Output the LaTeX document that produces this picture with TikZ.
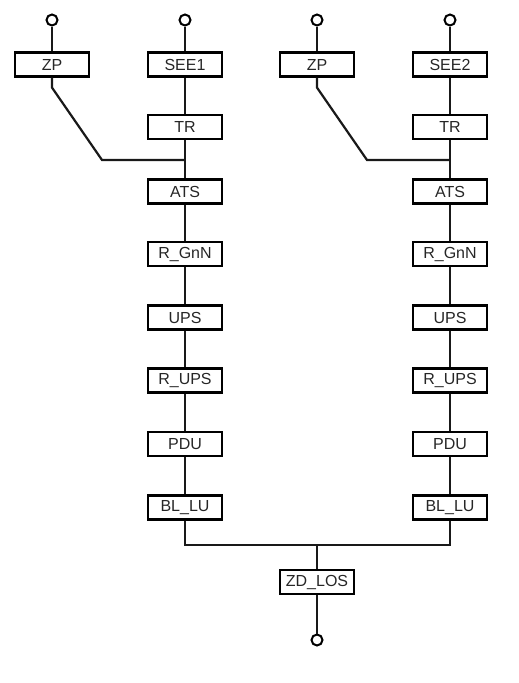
\documentclass[tikz,border=0pt]{standalone}
\usepackage{fontspec}
\setmainfont{Liberation Sans}
\begin{document}
\begin{tikzpicture}
            [x=1pt, y=-1pt,
            block/.style={draw, line width=2.2pt, minimum width=74pt, minimum height=24pt, inner sep=0pt, font=\fontsize{16}{18}\selectfont, text=black!85},
            term/.style={circle, draw, line width=2pt, minimum size=11pt, inner sep=0pt},
            wire/.style={line width=2.2pt, black!90}]

            \useasboundingbox (0,0) rectangle (519,683);

            % left chain
            \node[term] (t1) at (52,20) {};
            \node[term] (t2) at (185,20) {};
            \node[block] (zp1) at (52,64.5) {ZP};
            \node[block] (see1) at (185,64.5) {SEE1};
            \node[block] (tr1) at (185,127) {TR};
            \node[block] (ats1) at (185,191.5) {ATS};
            \node[block] (rg1) at (185,254) {R\_GnN};
            \node[block] (ups1) at (185,317.5) {UPS};
            \node[block] (ru1) at (185,380.5) {R\_UPS};
            \node[block] (pdu1) at (185,444) {PDU};
            \node[block] (bl1) at (185,507.5) {BL\_LU};
            \coordinate (b1) at (102,160);
            \coordinate (j1) at (185,160);

            % right chain
            \node[term] (t3) at (317,20) {};
            \node[term] (t4) at (450,20) {};
            \node[block] (zp2) at (317,64.5) {ZP};
            \node[block] (see2) at (450,64.5) {SEE2};
            \node[block] (tr2) at (450,127) {TR};
            \node[block] (ats2) at (450,191.5) {ATS};
            \node[block] (rg2) at (450,254) {R\_GnN};
            \node[block] (ups2) at (450,317.5) {UPS};
            \node[block] (ru2) at (450,380.5) {R\_UPS};
            \node[block] (pdu2) at (450,444) {PDU};
            \node[block] (bl2) at (450,507.5) {BL\_LU};
            \coordinate (b2) at (367,160);
            \coordinate (j2) at (450,160);

            % output
            \coordinate (m) at (317,545);
            \node[block] (zd) at (317,582) {ZD\_LOS};
            \node[term] (t5) at (317,640) {};

            \draw[wire] (t1) -- (zp1);
            \draw[wire] (t2) -- (see1) -- (tr1) -- (ats1) -- (rg1) -- (ups1) -- (ru1) -- (pdu1) -- (bl1);
            \draw[wire] (zp1.south) -- ++(0,10) -- (b1) -- (j1);
            \draw[wire] (t3) -- (zp2);
            \draw[wire] (t4) -- (see2) -- (tr2) -- (ats2) -- (rg2) -- (ups2) -- (ru2) -- (pdu2) -- (bl2);
            \draw[wire] (zp2.south) -- ++(0,10) -- (b2) -- (j2);
            \draw[wire] (bl1.south) |- (m) -| (bl2.south);
            \draw[wire] (m) -- (zd) -- (t5);

        \end{tikzpicture}
\end{document}
